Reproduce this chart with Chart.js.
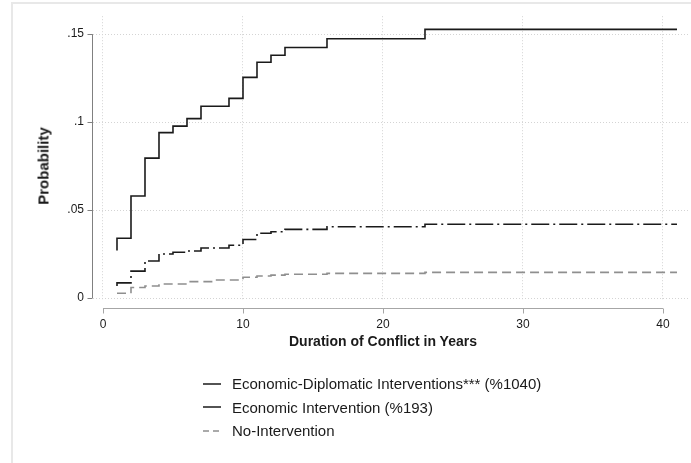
<!DOCTYPE html>
<html lang="en">
<head>
    <meta charset="UTF-8">
    <title>Duration of Conflict</title>
    <script src="https://cdn.jsdelivr.net/npm/chart.js"></script>
    <style>
        html, body { margin: 0; padding: 0; background: #fff; }
        body { font-family: "Liberation Sans", Arial, sans-serif; color: #1a1a1a; }
        .wrap { position: relative; width: 691px; height: 463px; overflow: hidden; }
        .frame { position: absolute; left: 11px; top: 2px; right: -10px; bottom: -10px;
                 border-left: 2px solid #e8e8e8; border-top: 2px solid #e8e8e8; }
        #chart { position: absolute; left: 0; top: 0; }
        .ytitle { position: absolute; left: 43px; top: 166px; font-weight: bold; font-size: 15px;
                  transform: translate(-50%, -50%) rotate(-90deg); white-space: nowrap; }
        .xtitle { position: absolute; left: 383px; top: 341px; font-weight: bold; font-size: 14px;
                  transform: translate(-50%, -50%); white-space: nowrap; }
        .legend { position: absolute; left: 203px; top: 372px; font-size: 15px; }
        .legend .row { display: flex; align-items: center; height: 23.5px; }
        .legend svg { margin-right: 11px; }
    </style>
</head>
<body>
    <div class="wrap">
        <div class="frame"></div>
        <canvas id="chart" width="691" height="360"></canvas>
        <div class="ytitle">Probability</div>
        <div class="xtitle">Duration of Conflict in Years</div>
        <div class="legend" id="legend"></div>
    </div>

    <script>
        // Kaplan-Meier style step curves
        const seriesNames = [
            'Economic-Diplomatic Interventions*** (%1040)',
            'Economic Intervention (%193)',
            'No-Intervention'
        ];

        const ecoDipYears = [1, 1, 2, 3, 4, 5, 6, 7, 9, 10, 11, 12, 13, 16, 23, 41];
        const ecoDipProb  = [.027, .034, .058, .0795, .094, .0977, .102, .109, .1135, .1254, .134, .138, .1424, .1474, .1527, .1527];

        const ecoYears = [1, 1, 2, 3, 4, 5, 6, 7, 9, 10, 11, 12, 13, 16, 23, 41];
        const ecoProb  = [.0068, .0086, .0153, .021, .025, .026, .0267, .0284, .030, .0333, .0368, .0377, .039, .0405, .0419, .0419];

        const noIntYears = [1, 2, 3, 4, 6, 8, 10, 11, 12, 13, 16, 23, 41];
        const noIntProb  = [.0027, .006, .0068, .008, .0093, .0102, .0118, .0125, .013, .0135, .014, .0146, .0146];

        const xTicks = [0, 10, 20, 30, 40];
        const yTicks = [0, .05, .1, .15];
        const yTickLabels = ['0', '.05', '.1', '.15'];

        const zip = (xs, ys) => xs.map((x, i) => ({ x: x, y: ys[i] }));

        const styles = [
            { color: '#1a1a1a', dash: [], width: 1.6 },
            { color: '#1a1a1a', dash: [18, 4, 2, 4], width: 1.6 },
            { color: '#8f8f8f', dash: [9, 5], width: 1.6 }
        ];

        // Stata-like axes drawn apart from the plot region
        const stataAxes = {
            id: 'stataAxes',
            afterDraw(chart) {
                const c = chart.ctx;
                const xs = chart.scales.x, ys = chart.scales.y;
                c.save();
                c.lineWidth = 1;
                // y axis
                const ax = chart.chartArea.left - 0.5;
                c.strokeStyle = '#808080';
                c.beginPath();
                c.moveTo(ax, ys.getPixelForValue(yTicks[yTicks.length - 1]));
                c.lineTo(ax, ys.getPixelForValue(0));
                yTicks.forEach(t => {
                    const py = Math.round(ys.getPixelForValue(t)) + 0.5;
                    c.moveTo(ax, py);
                    c.lineTo(ax - 5, py);
                });
                c.stroke();
                // x axis
                const ay = chart.chartArea.bottom + 7.5;
                c.strokeStyle = '#a6a6a6';
                c.beginPath();
                c.moveTo(xs.getPixelForValue(0), ay);
                c.lineTo(xs.getPixelForValue(xTicks[xTicks.length - 1]), ay);
                xTicks.forEach(t => {
                    const px = Math.round(xs.getPixelForValue(t)) + 0.5;
                    c.moveTo(px, ay);
                    c.lineTo(px, ay + 5);
                });
                c.stroke();
                c.restore();
            }
        };

        const ctx = document.getElementById('chart').getContext('2d');
        const chart = new Chart(ctx, {
            type: 'line',
            data: {
                datasets: [
                    { label: seriesNames[0], data: zip(ecoDipYears, ecoDipProb) },
                    { label: seriesNames[1], data: zip(ecoYears, ecoProb) },
                    { label: seriesNames[2], data: zip(noIntYears, noIntProb) }
                ].map((d, i) => Object.assign(d, {
                    borderColor: styles[i].color,
                    borderDash: styles[i].dash,
                    borderWidth: styles[i].width,
                    stepped: 'before',
                    pointRadius: 0,
                    fill: false
                }))
            },
            options: {
                responsive: false,
                animation: false,
                layout: { padding: { top: 16, right: 1, left: 0, bottom: 0 } },
                plugins: { legend: { display: false }, tooltip: { enabled: false } },
                scales: {
                    x: {
                        type: 'linear',
                        min: -0.714,
                        max: 41.93,
                        afterBuildTicks: s => { s.ticks = xTicks.map(v => ({ value: v })); },
                        afterFit: s => { s.height = 59; },
                        ticks: { padding: 16, color: '#1a1a1a', maxRotation: 0, font: { family: 'Liberation Sans', size: 12 } },
                        grid: { color: '#d4d4d4', drawTicks: false },
                        border: { display: false, dash: [1, 2] }
                    },
                    y: {
                        min: -0.0017,
                        max: 0.1602,
                        afterBuildTicks: s => { s.ticks = yTicks.map(v => ({ value: v })); },
                        afterFit: s => { s.width = 93; },
                        ticks: {
                            padding: 9,
                            color: '#1a1a1a',
                            font: { family: 'Liberation Sans', size: 12 },
                            callback: v => yTickLabels[yTicks.indexOf(v)]
                        },
                        grid: { color: '#d4d4d4', drawTicks: false },
                        border: { display: false, dash: [1, 2] }
                    }
                }
            },
            plugins: [stataAxes]
        });

        // HTML legend, one entry per row
        const legend = document.getElementById('legend');
        seriesNames.forEach((name, i) => {
            const row = document.createElement('div');
            row.className = 'row';
            const dash = i === 2 ? '6 4' : 'none';
            row.innerHTML = '<svg width="18" height="4"><line x1="0" y1="2" x2="18" y2="2" stroke="' +
                styles[i].color + '" stroke-width="1.5" stroke-dasharray="' + dash + '"/></svg>';
            const label = document.createElement('span');
            label.textContent = name;
            row.appendChild(label);
            legend.appendChild(row);
        });
    </script>
</body>
</html>
